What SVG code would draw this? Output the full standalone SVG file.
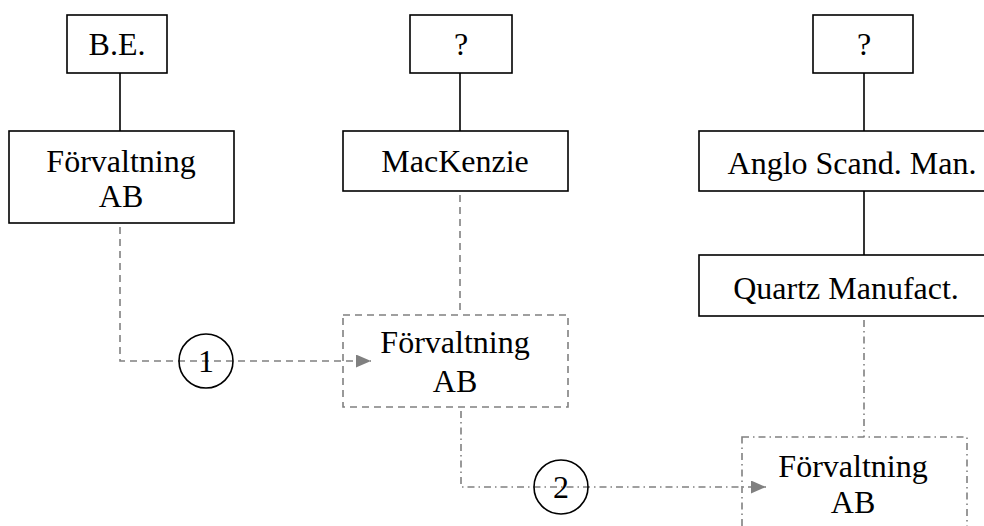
<svg xmlns="http://www.w3.org/2000/svg" width="984" height="526" viewBox="0 0 984 526">
  <style>
    text { font-family: "Liberation Serif", "Times New Roman", serif; font-size: 32px; fill: #000; text-anchor: middle; }
    .box { fill: #fff; stroke: #000; stroke-width: 1.6; }
    .solid { stroke: #000; stroke-width: 1.6; fill: none; }
    .dash { stroke: #808080; stroke-width: 1.6; fill: none; stroke-dasharray: 7 5; }
    .dashdot { stroke: #808080; stroke-width: 1.6; fill: none; stroke-dasharray: 7 4 1.5 4; }
    .num { fill: none; stroke: #000; stroke-width: 1.6; }
  </style>
  <defs>
    <marker id="arrow" viewBox="0 0 15 13" refX="15" refY="6.5" markerWidth="15" markerHeight="13" markerUnits="userSpaceOnUse" orient="auto">
      <path d="M0,0 L15,6.5 L0,13 Z" fill="#808080"/>
    </marker>
  </defs>

  <!-- connectors -->
  <g id="connectors">
    <line class="solid" x1="120" y1="73" x2="120" y2="131"/>
    <line class="solid" x1="460" y1="73" x2="460" y2="131"/>
    <line class="solid" x1="864" y1="73" x2="864" y2="131"/>
    <line class="solid" x1="864" y1="191" x2="864" y2="255"/>
    <line class="dash" x1="460" y1="195" x2="460" y2="315"/>
    <line class="dashdot" x1="864" y1="320" x2="864" y2="437"/>
    <polyline class="dash" points="120,227 120,361 371,361" marker-end="url(#arrow)"/>
    <polyline class="dashdot" points="461,411 461,487 766,487" marker-end="url(#arrow)"/>
  </g>

  <!-- left column -->
  <g id="be">
    <rect class="box" x="67" y="15" width="100" height="58"/>
    <text x="117" y="55">B.E.</text>
  </g>
  <g id="forvaltning-1">
    <rect class="box" x="9" y="131" width="225" height="92"/>
    <text x="121" y="172">Förvaltning</text>
    <text x="121" y="207">AB</text>
  </g>

  <!-- middle column -->
  <g id="unknown-1">
    <rect class="box" x="410" y="15" width="102" height="58"/>
    <text x="461" y="55">?</text>
  </g>
  <g id="mackenzie">
    <rect class="box" x="343" y="131" width="225" height="60"/>
    <text x="455" y="172">MacKenzie</text>
  </g>
  <g id="forvaltning-2">
    <rect class="dash" x="343" y="315" width="225" height="92"/>
    <text x="455" y="353">Förvaltning</text>
    <text x="455" y="392">AB</text>
  </g>

  <!-- right column -->
  <g id="unknown-2">
    <rect class="box" x="813" y="15" width="100" height="58"/>
    <text x="864" y="55">?</text>
  </g>
  <g id="anglo">
    <rect class="box" x="699" y="131" width="320" height="60"/>
    <text x="852" y="174">Anglo Scand. Man.</text>
  </g>
  <g id="quartz">
    <rect class="box" x="699" y="255" width="320" height="61"/>
    <text x="846" y="299">Quartz Manufact.</text>
  </g>
  <g id="forvaltning-3">
    <rect class="dashdot" x="742" y="437" width="225" height="100"/>
    <text x="853" y="477">Förvaltning</text>
    <text x="853" y="513">AB</text>
  </g>

  <!-- step markers -->
  <g id="step-1">
    <circle class="num" cx="206" cy="361" r="27"/>
    <text x="206" y="372">1</text>
  </g>
  <g id="step-2">
    <circle class="num" cx="561" cy="487" r="27"/>
    <text x="561" y="498">2</text>
  </g>
</svg>
